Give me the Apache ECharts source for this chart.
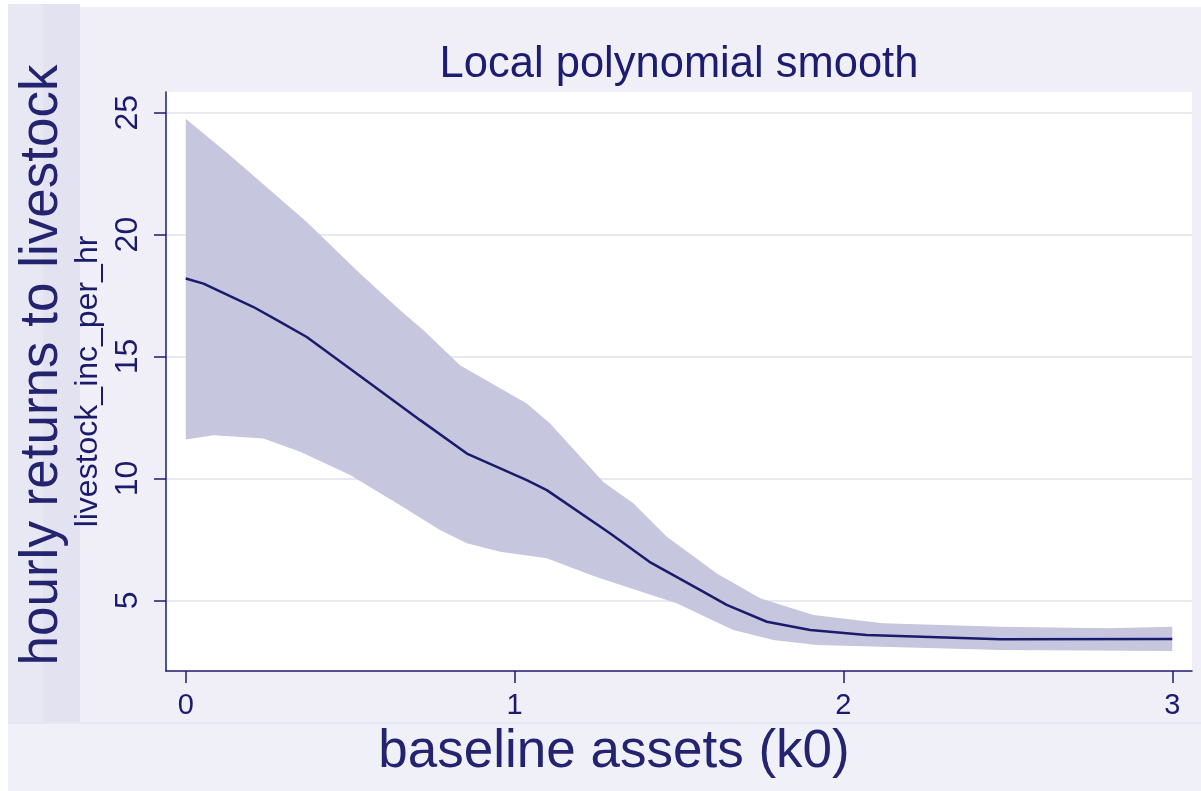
<!DOCTYPE html>
<html>
<head>
<meta charset="utf-8">
<script src="https://cdn.jsdelivr.net/npm/echarts@6/dist/echarts.min.js"></script>
<style>
html,body{margin:0;padding:0;background:#fff;}
#chart{width:1201px;height:791px;}
</style>
</head>
<body>
<div id="chart"></div>
<script>
// ---- data ----
var titleText = 'Local polynomial smooth';
var xAxisTitle = 'baseline assets (k0)';
var yAxisTitle = 'livestock_inc_per_hr';
var outerYTitle = 'hourly returns to livestock';
var xTicks = [0, 1, 2, 3];
var yTicks = [5, 10, 15, 20, 25];

// smoothed mean
var meanLine = [
  [0, 18.2], [0.054, 17.99], [0.206, 17.03], [0.287, 16.42], [0.368, 15.8],
  [0.56, 13.9], [0.713, 12.39], [0.855, 11.02], [1.037, 9.93], [1.098, 9.52],
  [1.29, 7.75], [1.41, 6.58], [1.565, 5.42], [1.645, 4.81], [1.767, 4.12],
  [1.899, 3.78], [2.07, 3.58], [2.477, 3.4], [3.0, 3.41]
];
// upper bound of confidence band
var upperBand = [
  [0, 24.75], [0.135, 23.25], [0.368, 20.52], [0.53, 18.4], [0.652, 16.9],
  [0.723, 16.08], [0.834, 14.64], [1.037, 13.07], [1.108, 12.25], [1.27, 9.85],
  [1.361, 8.98], [1.463, 7.61], [1.565, 6.6], [1.615, 6.1], [1.747, 5.08],
  [1.909, 4.4], [2.12, 4.06], [2.477, 3.92], [2.8, 3.85], [3.0, 3.92]
];
// lower bound of confidence band
var lowerBand = [
  [0, 11.6], [0.084, 11.77], [0.236, 11.64], [0.348, 11.09], [0.5, 10.14],
  [0.652, 8.9], [0.773, 7.88], [0.855, 7.34], [0.956, 6.99], [1.098, 6.72],
  [1.22, 6.1], [1.26, 5.9], [1.493, 4.88], [1.565, 4.42], [1.665, 3.78],
  [1.787, 3.37], [1.919, 3.17], [2.477, 2.96], [3.0, 2.92]
];

var NAVY = '#1b1b6d';
var TEXT = '#23236f';
var FONT = '"Liberation Sans", Arial, Helvetica, sans-serif';

var chart = echarts.init(document.getElementById('chart'), null, {renderer: 'canvas'});

var option = {
  animation: false,
  backgroundColor: '#f0eff7',
  title: {
    text: titleText,
    left: 674,
    textAlign: 'center',
    top: 38,
    textStyle: {color: '#1c1c70', fontFamily: FONT, fontSize: 43.5, fontWeight: 'normal'}
  },
  graphic: [
    {type: 'rect', z: -5, silent: true, shape: {x: 0, y: 0, width: 1201, height: 7}, style: {fill: '#ffffff'}},
    {type: 'rect', z: -5, silent: true, shape: {x: 0, y: 0, width: 8, height: 791}, style: {fill: '#ffffff'}},
    {type: 'rect', z: -4, silent: true, shape: {x: 8, y: 4, width: 72, height: 721}, style: {fill: '#e8e8f5'}},
    {type: 'rect', z: -4, silent: true, shape: {x: 43, y: 4, width: 37, height: 721}, style: {fill: '#e2e2f1'}},
    {type: 'rect', z: -4, silent: true, shape: {x: 8, y: 722, width: 1193, height: 2}, style: {fill: '#e6e6f2'}},
    {type: 'rect', z: -4, silent: true, shape: {x: 8, y: 724, width: 1193, height: 67}, style: {fill: '#f0f0f9'}},
    {
      type: 'text', z: 10, silent: true,
      x: 42, y: 365, rotation: Math.PI / 2,
      style: {
        text: outerYTitle, fill: TEXT, font: '53px ' + FONT,
        align: 'center', verticalAlign: 'middle'
      }
    }
  ],
  grid: {
    left: 166, right: 9, top: 92, bottom: 120,
    show: true, backgroundColor: '#ffffff', borderWidth: 0
  },
  xAxis: {
    type: 'value',
    min: -0.06, max: 3.06,
    name: xAxisTitle,
    nameLocation: 'middle',
    nameGap: 55,
    nameTextStyle: {color: TEXT, fontFamily: FONT, fontSize: 53, padding: [0, 130, 0, 0]},
    axisLine: {show: true, onZero: false, lineStyle: {color: NAVY, width: 1.5}},
    axisTick: {show: true, length: 12, lineStyle: {color: NAVY, width: 1.5}, customValues: xTicks},
    axisLabel: {color: NAVY, fontFamily: FONT, fontSize: 29, margin: 20, customValues: xTicks,
      formatter: function (v) { return String(v); }},
    splitLine: {show: false}
  },
  yAxis: {
    type: 'value',
    min: 2.1, max: 25.85,
    name: yAxisTitle,
    nameLocation: 'middle',
    nameRotate: 90,
    nameGap: 49,
    nameTextStyle: {color: NAVY, fontFamily: FONT, fontSize: 32},
    axisLine: {show: true, onZero: false, lineStyle: {color: NAVY, width: 1.5}},
    axisTick: {show: true, length: 12, lineStyle: {color: NAVY, width: 1.5}, customValues: yTicks},
    axisLabel: {color: NAVY, fontFamily: FONT, fontSize: 32, rotate: 90, margin: 22, customValues: yTicks,
      formatter: function (v) { return String(v); }},
    splitLine: {show: true, lineStyle: {color: '#e8e8f3', width: 2}}
  },
  series: [
    {
      type: 'custom',
      name: 'band',
      coordinateSystem: 'cartesian2d',
      data: [[0, 0]],
      silent: true,
      z: 1,
      renderItem: function (params, api) {
        var pts = [];
        for (var i = 0; i < upperBand.length; i++) pts.push(api.coord(upperBand[i]));
        for (var j = lowerBand.length - 1; j >= 0; j--) pts.push(api.coord(lowerBand[j]));
        return {type: 'polygon', shape: {points: pts}, style: {fill: '#c6c6df', stroke: null}};
      }
    },
    {
      type: 'line',
      name: 'mean',
      data: meanLine,
      showSymbol: false,
      symbol: 'none',
      z: 3,
      lineStyle: {color: NAVY, width: 2.5}
    }
  ]
};
chart.setOption(option);
</script>
</body>
</html>
